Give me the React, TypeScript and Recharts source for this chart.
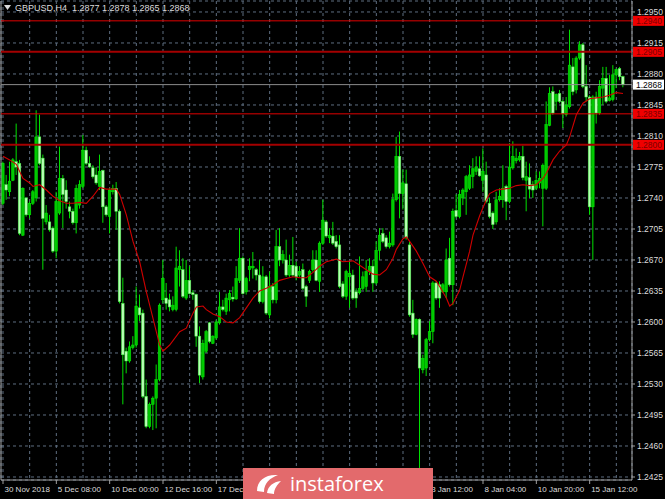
import React from 'react';
import { ComposedChart, Bar, Line, XAxis, YAxis, CartesianGrid, ReferenceLine } from 'recharts';

// GBPUSD H4 candles, oldest first
const opens = [
  1.2734, 1.2755, 1.2747, 1.2760, 1.2781, 1.2779, 1.2698, 1.2740, 1.2721, 1.2734,
  1.2740, 1.2809, 1.2785, 1.2713, 1.2713, 1.2706, 1.2680, 1.2723, 1.2762, 1.2749,
  1.2730, 1.2725, 1.2712, 1.2732, 1.2753, 1.2794, 1.2779, 1.2774, 1.2766, 1.2753,
  1.2771, 1.2730, 1.2719, 1.2747, 1.2751, 1.2725, 1.2621, 1.2567, 1.2556, 1.2571,
  1.2574, 1.2616, 1.2610, 1.2516, 1.2482, 1.2507, 1.2514, 1.2535, 1.2625, 1.2627,
  1.2625, 1.2614, 1.2614, 1.2659, 1.2659, 1.2627, 1.2647, 1.2633, 1.2631, 1.2584,
  1.2538, 1.2567, 1.2599, 1.2576, 1.2582, 1.2599, 1.2617, 1.2612, 1.2625, 1.2628,
  1.2626, 1.2647, 1.2672, 1.2634, 1.2659, 1.2661, 1.2659, 1.2653, 1.2623, 1.2651,
  1.2608, 1.2640, 1.2625, 1.2685, 1.2670, 1.2670, 1.2653, 1.2664, 1.2663, 1.2653,
  1.2659, 1.2640, 1.2647, 1.2659, 1.2670, 1.2646, 1.2689, 1.2713, 1.2695, 1.2697,
  1.2691, 1.2687, 1.2643, 1.2629, 1.2651, 1.2653, 1.2634, 1.2633, 1.2638, 1.2640,
  1.2657, 1.2663, 1.2644, 1.2681, 1.2700, 1.2695, 1.2685, 1.2687, 1.2738, 1.2787,
  1.2745, 1.2756, 1.2687, 1.2610, 1.2586, 1.2603, 1.2546, 1.2548, 1.2580, 1.2589,
  1.2644, 1.2642, 1.2634, 1.2634, 1.2672, 1.2642, 1.2726, 1.2719, 1.2740, 1.2747,
  1.2751, 1.2764, 1.2770, 1.2773, 1.2760, 1.2766, 1.2734, 1.2723, 1.2713, 1.2738,
  1.2738, 1.2753, 1.2736, 1.2774, 1.2782, 1.2783, 1.2787, 1.2760, 1.2763, 1.2755,
  1.2751, 1.2757, 1.2751, 1.2751, 1.2822, 1.2860, 1.2849, 1.2858, 1.2849, 1.2834,
  1.2843, 1.2888, 1.2862, 1.2898, 1.2913, 1.2866, 1.2854, 1.2730, 1.2854, 1.2836,
  1.2864, 1.2875, 1.2850, 1.2851, 1.2879, 1.2886, 1.2877,
];
const highs = [
  1.2781, 1.2766, 1.2781, 1.2785, 1.2824, 1.2783, 1.2752, 1.2741, 1.2736, 1.2749,
  1.2839, 1.2834, 1.2789, 1.2732, 1.2721, 1.2708, 1.2747, 1.2798, 1.2766, 1.2760,
  1.2736, 1.2728, 1.2755, 1.2760, 1.2811, 1.2798, 1.2787, 1.2777, 1.2775, 1.2789,
  1.2772, 1.2732, 1.2751, 1.2755, 1.2758, 1.2727, 1.2650, 1.2571, 1.2578, 1.2584,
  1.2640, 1.2631, 1.2614, 1.2535, 1.2509, 1.2516, 1.2552, 1.2621, 1.2670, 1.2644,
  1.2632, 1.2629, 1.2685, 1.2681, 1.2672, 1.2670, 1.2663, 1.2636, 1.2632, 1.2595,
  1.2580, 1.2591, 1.2600, 1.2585, 1.2602, 1.2634, 1.2625, 1.2632, 1.2636, 1.2640,
  1.2663, 1.2706, 1.2674, 1.2651, 1.2672, 1.2679, 1.2661, 1.2670, 1.2663, 1.2653,
  1.2657, 1.2644, 1.2704, 1.2706, 1.2681, 1.2693, 1.2676, 1.2696, 1.2668, 1.2663,
  1.2666, 1.2642, 1.2659, 1.2681, 1.2681, 1.2691, 1.2738, 1.2715, 1.2706, 1.2713,
  1.2698, 1.2698, 1.2646, 1.2659, 1.2668, 1.2659, 1.2638, 1.2674, 1.2657, 1.2670,
  1.2672, 1.2670, 1.2691, 1.2706, 1.2706, 1.2698, 1.2702, 1.2745, 1.2809, 1.2815,
  1.2772, 1.2772, 1.2691, 1.2625, 1.2604, 1.2604, 1.2563, 1.2582, 1.2601, 1.2646,
  1.2646, 1.2646, 1.2644, 1.2683, 1.2695, 1.2728, 1.2744, 1.2749, 1.2751, 1.2766,
  1.2777, 1.2785, 1.2787, 1.2787, 1.2796, 1.2781, 1.2740, 1.2725, 1.2747, 1.2751,
  1.2777, 1.2755, 1.2802, 1.2804, 1.2796, 1.2792, 1.2799, 1.2781, 1.2779, 1.2759,
  1.2770, 1.2770, 1.2779, 1.2849, 1.2865, 1.2866, 1.2858, 1.2862, 1.2851, 1.2854,
  1.2930, 1.2898, 1.2900, 1.2917, 1.2915, 1.2890, 1.2856, 1.2856, 1.2860, 1.2873,
  1.2888, 1.2888, 1.2879, 1.2890, 1.2886, 1.2888, 1.2878,
];
const lows = [
  1.2732, 1.2738, 1.2742, 1.2759, 1.2766, 1.2698, 1.2697, 1.2719, 1.2717, 1.2732,
  1.2736, 1.2777, 1.2659, 1.2710, 1.2702, 1.2678, 1.2672, 1.2721, 1.2706, 1.2728,
  1.2717, 1.2710, 1.2700, 1.2728, 1.2751, 1.2777, 1.2774, 1.2762, 1.2755, 1.2749,
  1.2712, 1.2719, 1.2700, 1.2744, 1.2704, 1.2621, 1.2507, 1.2542, 1.2554, 1.2569,
  1.2571, 1.2601, 1.2514, 1.2480, 1.2480, 1.2478, 1.2480, 1.2533, 1.2621, 1.2614,
  1.2612, 1.2612, 1.2612, 1.2640, 1.2627, 1.2625, 1.2631, 1.2625, 1.2572, 1.2531,
  1.2535, 1.2565, 1.2576, 1.2575, 1.2580, 1.2597, 1.2612, 1.2608, 1.2612, 1.2623,
  1.2625, 1.2644, 1.2631, 1.2631, 1.2646, 1.2649, 1.2647, 1.2621, 1.2621, 1.2608,
  1.2604, 1.2621, 1.2621, 1.2663, 1.2666, 1.2651, 1.2651, 1.2651, 1.2647, 1.2651,
  1.2636, 1.2617, 1.2644, 1.2657, 1.2646, 1.2634, 1.2687, 1.2695, 1.2689, 1.2687,
  1.2683, 1.2638, 1.2627, 1.2625, 1.2616, 1.2625, 1.2616, 1.2631, 1.2636, 1.2634,
  1.2653, 1.2634, 1.2642, 1.2670, 1.2689, 1.2683, 1.2683, 1.2685, 1.2736, 1.2717,
  1.2727, 1.2693, 1.2606, 1.2582, 1.2585, 1.2435, 1.2542, 1.2539, 1.2578, 1.2576,
  1.2625, 1.2616, 1.2633, 1.2627, 1.2640, 1.2619, 1.2717, 1.2717, 1.2732, 1.2721,
  1.2749, 1.2751, 1.2766, 1.2764, 1.2747, 1.2734, 1.2717, 1.2705, 1.2710, 1.2736,
  1.2729, 1.2715, 1.2734, 1.2772, 1.2779, 1.2781, 1.2760, 1.2725, 1.2740, 1.2740,
  1.2749, 1.2751, 1.2708, 1.2749, 1.2821, 1.2834, 1.2839, 1.2847, 1.2819, 1.2832,
  1.2841, 1.2856, 1.2858, 1.2896, 1.2864, 1.2849, 1.2721, 1.2670, 1.2824, 1.2834,
  1.2845, 1.2847, 1.2849, 1.2849, 1.2864, 1.2873, 1.2865,
];
const closes = [
  1.2779, 1.2749, 1.2759, 1.2783, 1.2775, 1.2700, 1.2751, 1.2721, 1.2734, 1.2747,
  1.2809, 1.2779, 1.2717, 1.2723, 1.2704, 1.2680, 1.2736, 1.2762, 1.2744, 1.2736,
  1.2725, 1.2712, 1.2751, 1.2755, 1.2794, 1.2779, 1.2775, 1.2764, 1.2757, 1.2770,
  1.2730, 1.2721, 1.2749, 1.2751, 1.2725, 1.2623, 1.2563, 1.2556, 1.2572, 1.2574,
  1.2618, 1.2608, 1.2516, 1.2482, 1.2507, 1.2514, 1.2535, 1.2619, 1.2649, 1.2621,
  1.2617, 1.2619, 1.2661, 1.2663, 1.2629, 1.2647, 1.2632, 1.2631, 1.2584, 1.2540,
  1.2576, 1.2589, 1.2578, 1.2584, 1.2600, 1.2617, 1.2614, 1.2627, 1.2632, 1.2626,
  1.2649, 1.2672, 1.2632, 1.2649, 1.2663, 1.2663, 1.2653, 1.2623, 1.2651, 1.2610,
  1.2640, 1.2625, 1.2685, 1.2670, 1.2676, 1.2653, 1.2664, 1.2653, 1.2651, 1.2657,
  1.2638, 1.2629, 1.2657, 1.2670, 1.2647, 1.2689, 1.2715, 1.2697, 1.2698, 1.2689,
  1.2685, 1.2640, 1.2629, 1.2657, 1.2655, 1.2627, 1.2627, 1.2638, 1.2651, 1.2657,
  1.2663, 1.2644, 1.2681, 1.2698, 1.2691, 1.2685, 1.2689, 1.2738, 1.2787, 1.2745,
  1.2757, 1.2695, 1.2608, 1.2586, 1.2603, 1.2548, 1.2559, 1.2580, 1.2589, 1.2644,
  1.2627, 1.2627, 1.2642, 1.2670, 1.2642, 1.2725, 1.2719, 1.2744, 1.2749, 1.2764,
  1.2766, 1.2773, 1.2775, 1.2765, 1.2770, 1.2736, 1.2719, 1.2710, 1.2738, 1.2742,
  1.2751, 1.2736, 1.2775, 1.2787, 1.2785, 1.2787, 1.2763, 1.2764, 1.2750, 1.2749,
  1.2760, 1.2762, 1.2777, 1.2823, 1.2858, 1.2836, 1.2857, 1.2849, 1.2835, 1.2845,
  1.2890, 1.2860, 1.2898, 1.2913, 1.2866, 1.2854, 1.2730, 1.2854, 1.2836, 1.2866,
  1.2875, 1.2849, 1.2853, 1.2879, 1.2885, 1.2877, 1.2868,
];

// Moving average readings (bar index -> value)
const maBars = [
  0, 2, 4, 5, 6, 8, 9, 11, 13, 15, 17, 19, 21, 23, 25, 27, 29, 31, 33, 34,
  35, 37, 39, 41, 43, 45, 47, 48, 50, 53, 55, 57, 58, 60, 61, 63, 65, 67, 69, 71,
  73, 75, 77, 79, 81, 83, 85, 87, 89, 91, 93, 95, 97, 100, 102, 105, 107, 109, 111, 113,
  115, 117, 118, 120, 121, 122, 124, 126, 128, 130, 131, 133, 134, 135, 137, 138, 140, 141, 143, 145,
  146, 148, 150, 152, 154, 156, 158, 160, 162, 163, 165, 167, 169, 170, 172, 174, 176, 178, 180, 182,
  184, 186,
];
const maValues = [
  1.2787, 1.2783, 1.2778, 1.2770, 1.2762, 1.2757, 1.2753, 1.2755, 1.2749, 1.2742,
  1.2737, 1.2734, 1.2734, 1.2735, 1.2734, 1.2742, 1.2752, 1.2750, 1.2750, 1.2750,
  1.2744, 1.2721, 1.2691, 1.2668, 1.2634, 1.2604, 1.2574, 1.2567, 1.2574, 1.2589,
  1.2593, 1.2610, 1.2617, 1.2618, 1.2614, 1.2609, 1.2606, 1.2600, 1.2599, 1.2605,
  1.2616, 1.2627, 1.2635, 1.2638, 1.2642, 1.2647, 1.2649, 1.2651, 1.2650, 1.2650,
  1.2656, 1.2663, 1.2668, 1.2671, 1.2668, 1.2669, 1.2664, 1.2659, 1.2654, 1.2653,
  1.2659, 1.2672, 1.2682, 1.2694, 1.2696, 1.2691, 1.2680, 1.2666, 1.2651, 1.2646,
  1.2640, 1.2627, 1.2618, 1.2621, 1.2636, 1.2651, 1.2680, 1.2698, 1.2720, 1.2738,
  1.2745, 1.2749, 1.2750, 1.2751, 1.2754, 1.2755, 1.2754, 1.2755, 1.2762, 1.2768,
  1.2783, 1.2793, 1.2800, 1.2809, 1.2834, 1.2847, 1.2852, 1.2853, 1.2854, 1.2856,
  1.2859, 1.2858,
];

// Horizontal levels drawn across the chart
const levelPrices = [1.2940, 1.2905, 1.2835, 1.2800];
const bidPrice = 1.2868;

// Axis ticks
const priceTicks = [
  1.2425, 1.2460, 1.2495, 1.2530, 1.2565, 1.2600, 1.2635, 1.2670,
  1.2705, 1.2740, 1.2775, 1.2810, 1.2845, 1.2880, 1.2915, 1.2950,
];
const gridBars = [
  0, 8, 16, 24, 32, 40, 48, 56, 64, 72, 80, 88,
  96, 104, 112, 120, 128, 136, 144, 152, 160, 168, 176, 184,
];
const timeLabelBars = [0, 16, 32, 48, 64, 128, 144, 160, 176];
const timeLabels = [
  '30 Nov 2018', '5 Dec 08:00', '10 Dec 00:00', '12 Dec 16:00', '17 Dec 08:00',
  '3 Jan 12:00', '8 Jan 04:00', '10 Jan 20:00', '15 Jan 12:00',
];
const lastBar = { open: 1.2877, high: 1.2878, low: 1.2865, close: 1.2868 };

const X_MIN = -0.6;
const X_MAX = 188.7;
const Y_MIN = 1.24216;
const Y_MAX = 1.29624;

const FONT = '"Liberation Sans", Arial, sans-serif';
const TEXT = '#dcdcdc';
const FRAME = '#a0a0a0';
const GRID = '#5e6e80';
const WICK = '#00e000';
const BULL = '#00c800';
const BEAR = '#b8ffb4';

const maByBar = new Map<number, number>(maBars.map((b, k) => [b, maValues[k]]));

const data = opens.map((o, i) => ({
  i,
  o,
  h: highs[i],
  l: lows[i],
  c: closes[i],
  range: [lows[i], highs[i]],
  ma: maByBar.has(i) ? (maByBar.get(i) as number) : null,
}));

const Candle = (props: any) => {
  const { x, y, width, height, payload } = props;
  if (!payload || x == null || y == null) return <g />;
  const { o, c, h, l } = payload;
  const top = Math.min(y, y + height);
  const full = Math.abs(height);
  const span = h - l || 1e-9;
  const py = (v: number) => top + ((h - v) / span) * full;
  const cx = x + width / 2;
  const bTop = py(Math.max(o, c));
  const bBot = py(Math.min(o, c));
  const up = c >= o;
  return (
    <g>
      <line x1={cx} x2={cx} y1={top} y2={top + full} stroke={WICK} strokeWidth={1} />
      <rect
        x={cx - 1.3}
        y={bTop}
        width={2.6}
        height={Math.max(bBot - bTop, 0.8)}
        fill={up ? BULL : BEAR}
        stroke={up ? '#00f000' : '#40f040'}
        strokeWidth={0.5}
      />
    </g>
  );
};

const TimeTick = (props: any) => {
  const { x, y, payload } = props;
  const k = timeLabelBars.indexOf(payload.value);
  if (k < 0) return <g />;
  return (
    <g>
      <line x1={x} x2={x} y1={y} y2={y + 4} stroke={FRAME} strokeWidth={1} />
      <text x={x + 1.5} y={y + 12} fill={TEXT} fontSize={8} fontFamily={FONT}>
        {timeLabels[k]}
      </text>
    </g>
  );
};

const PriceTick = (props: any) => {
  const { x, y, payload } = props;
  return (
    <g>
      <line x1={x} x2={x + 3} y1={y} y2={y} stroke={FRAME} strokeWidth={1} />
      <text x={x + 5} y={y + 3} fill={TEXT} fontSize={8.5} fontFamily={FONT}>
        {Number(payload.value).toFixed(4)}
      </text>
    </g>
  );
};

const PriceTag = (props: any) => {
  const { viewBox, value, fill, color } = props;
  if (!viewBox) return <g />;
  const left = viewBox.x + viewBox.width + 1;
  const cy = viewBox.y;
  return (
    <g>
      <rect x={left} y={cy - 5} width={31} height={10} fill={fill} />
      <text x={left + 3} y={cy + 3} fill={color} fontSize={8.5} fontFamily={FONT}>
        {value.toFixed(4)}
      </text>
    </g>
  );
};

const levelStyle = (k: number) =>
  k % 2 === 1 ? { stroke: '#a40000', width: 2 } : { stroke: '#e00000', width: 1 };

export default function App() {
  return (
    <div style={{ position: 'absolute', left: 0, top: 0, width: 665, height: 499, background: '#000', overflow: 'hidden' }}>
      <ComposedChart width={665} height={499} data={data} margin={{ top: 1, right: 0, bottom: 0, left: 1 }}>
        <CartesianGrid stroke={GRID} strokeDasharray="3 3" />
        <XAxis
          dataKey="i"
          type="number"
          domain={[X_MIN, X_MAX]}
          allowDataOverflow
          ticks={gridBars}
          interval={0}
          height={19}
          tickLine={false}
          tickSize={0}
          tickMargin={0}
          axisLine={{ stroke: FRAME }}
          tick={<TimeTick />}
        />
        <YAxis
          orientation="right"
          type="number"
          domain={[Y_MIN, Y_MAX]}
          allowDataOverflow
          ticks={priceTicks}
          interval={0}
          width={33}
          tickLine={false}
          tickSize={0}
          tickMargin={0}
          axisLine={{ stroke: FRAME }}
          tick={<PriceTick />}
        />
        <ReferenceLine x={X_MIN} stroke={FRAME} strokeWidth={1} />
        <ReferenceLine
          y={bidPrice}
          stroke="#8c8c8c"
          strokeWidth={1}
          label={(lp: any) => <PriceTag viewBox={lp.viewBox} value={bidPrice} fill="#ffffff" color="#000000" />}
        />
        {levelPrices.map((p, k) => (
          <ReferenceLine
            key={p}
            y={p}
            stroke={levelStyle(k).stroke}
            strokeWidth={levelStyle(k).width}
            label={(lp: any) => <PriceTag viewBox={lp.viewBox} value={p} fill="#f00000" color="#7a0000" />}
          />
        ))}
        <Bar dataKey="range" barSize={3} shape={<Candle />} isAnimationActive={false} />
        <Line
          type="linear"
          dataKey="ma"
          stroke="#d00000"
          strokeWidth={1.1}
          dot={false}
          activeDot={false}
          connectNulls
          isAnimationActive={false}
        />
      </ComposedChart>

      <div
        style={{
          position: 'absolute',
          left: 4,
          top: 3,
          fontFamily: FONT,
          fontSize: 9,
          color: TEXT,
          whiteSpace: 'pre',
          display: 'flex',
          alignItems: 'center',
        }}
      >
        <svg width={8} height={6} style={{ marginRight: 3 }}>
          <polygon points="0,0 7,0 3.5,5" fill={TEXT} />
        </svg>
        <span>
          {`GBPUSD,H4  ${lastBar.open.toFixed(4)} ${lastBar.high.toFixed(4)} ${lastBar.low.toFixed(4)} ${lastBar.close.toFixed(4)}`}
        </span>
      </div>

      <div
        style={{
          position: 'absolute',
          left: 243,
          top: 468,
          width: 190,
          height: 31,
          background: '#e36a6c',
          display: 'flex',
          alignItems: 'center',
        }}
      >
        <svg width={34} height={26} style={{ marginLeft: 10 }}>
          <path d="M4 20 C 4 9, 13 3, 25 4 C 17 7, 11 12, 11 21 Z" fill="#ffffff" />
          <path d="M14 22 C 15 15, 20 11, 28 10 C 24 14, 21 18, 21 23 Z" fill="#ffffff" />
        </svg>
        <span style={{ fontFamily: '"Open Sans", sans-serif', fontSize: 20, color: '#ffffff', marginLeft: 3, lineHeight: '20px' }}>
          instaforex
        </span>
      </div>
    </div>
  );
}
